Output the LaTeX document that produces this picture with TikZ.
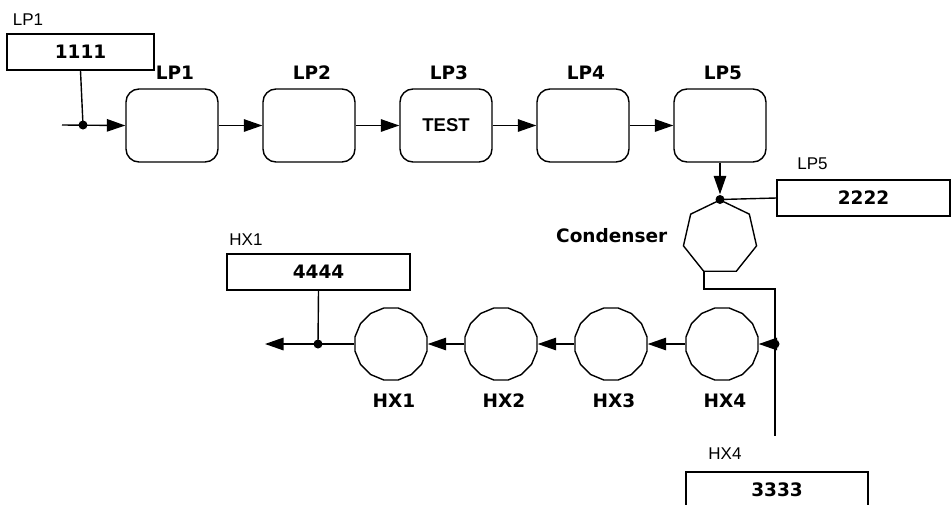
\documentclass[tikz,border=0pt]{standalone}
\usepackage{fontspec}
\setmainfont{DejaVu Sans}
\newfontfamily\arialf{Liberation Sans}
\usetikzlibrary{arrows.meta,shapes.geometric}
\begin{document}
\begin{tikzpicture}[x=1pt,y=-1pt,
  line width=1.4pt,
  arr/.style={-{Triangle[length=18.5pt,width=12.5pt]}},
  stagebox/.style={draw, rounded corners=13pt, minimum width=92pt, minimum height=73pt, inner sep=0pt,
    font=\arialf\bfseries\fontsize{18.5pt}{22pt}\selectfont},
  valbox/.style={draw, minimum height=36pt, inner sep=0pt,
    font=\bfseries\fontsize{18.5pt}{22pt}\selectfont},
  boldlbl/.style={inner sep=0pt, font=\bfseries\fontsize{18.5pt}{22pt}\selectfont},
  smalllbl/.style={inner sep=0pt, font=\arialf\fontsize{17pt}{20pt}\selectfont},
  heptn/.style={draw, regular polygon, regular polygon sides=7, minimum size=75pt, inner sep=0pt},
  hxn/.style={draw, regular polygon, regular polygon sides=16, minimum size=73.4pt, inner sep=0pt},
  dotn/.style={circle, fill, inner sep=0pt, minimum size=9pt}
]
\useasboundingbox (0,0) rectangle (951,504);

% value boxes and their labels
\node[valbox, minimum width=147pt] (b1) at (80.5,52) {1111};
\node[smalllbl] (l1) at (28,19.5) {LP1};
\node[valbox, minimum width=173pt] (b2) at (863.5,198) {2222};
\node[smalllbl] (l2) at (812.5,164) {LP5};
\node[valbox, minimum width=183pt] (b4) at (318.5,272) {4444};
\node[smalllbl] (l4) at (246,240) {HX1};
\node[valbox, minimum width=182pt] (b3) at (777,490) {3333};
\node[smalllbl] (l3) at (725,453.5) {HX4};

% LP stages
\node[stagebox] (lp1) at (172,125.5) {};
\node[stagebox] (lp2) at (309,125.5) {};
\node[stagebox] (lp3) at (446,125.5) {TEST};
\node[stagebox] (lp4) at (583,125.5) {};
\node[stagebox] (lp5) at (720,125.5) {};
\foreach \n/\x in {1/172,2/309,3/446,4/583,5/720}
  \node[boldlbl] (t\n) at (\x+3,73) {LP\n};

% condenser
\node[heptn] (cond) at (720,237.5) {};
\node[boldlbl, anchor=east] (tc) at (668,236) {Condenser};

% HX stages
\node[hxn] (hx1) at (391,344) {};
\node[hxn] (hx2) at (501,344) {};
\node[hxn] (hx3) at (611,344) {};
\node[hxn] (hx4) at (722,344) {};
\foreach \n/\x in {1/391,2/501,3/611,4/722}
  \node[boldlbl] (h\n) at (\x+3,401) {HX\n};

% junction dots and free ends
\coordinate (inL) at (62,125);
\node[dotn] (d1) at (83,125) {};
\node[dotn] (d2) at (720,199.5) {};
\coordinate (bend) at (775,289);
\coordinate (vend) at (775,436);
\node[dotn] (d3) at (775,344) {};
\node[dotn] (d4) at (318,344) {};
\coordinate (outL) at (265,344);

% connectors
\draw[arr] (inL) -- (lp1.west);
\draw (b1.south) -- (d1.center);
\draw[arr] (lp1.east) -- (lp2.west);
\draw[arr] (lp2.east) -- (lp3.west);
\draw[arr] (lp3.east) -- (lp4.west);
\draw[arr] (lp4.east) -- (lp5.west);
\draw[arr] (lp5.south) -- (d2);
\draw (d2.center) -- (b2.west);
\draw (cond.-115.7) |- (bend) -- (vend);
\draw[arr] (d3.center) -- (hx4.east);
\draw[arr] (hx4.west) -- (hx3.east);
\draw[arr] (hx3.west) -- (hx2.east);
\draw[arr] (hx2.west) -- (hx1.east);
\draw[arr] (hx1.west) -- (outL);
\draw (b4.south) -- (d4.center);
\end{tikzpicture}
\end{document}
